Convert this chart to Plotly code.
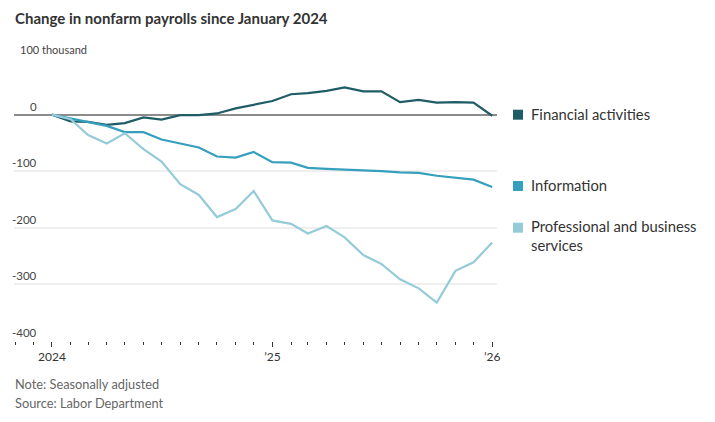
import plotly.graph_objects as go
import pandas as pd

months = pd.date_range("2024-01-01", "2026-01-01", freq="MS")

financial = [0, -12, -13, -18, -15, -5, -9, -1, -1, 2, 11, 17, 24,
             36, 38, 42, 48, 41, 41, 22, 26, 21, 22, 21, -2]
information = [0, -7, -13, -20, -31, -31, -44, -51, -58, -74, -76, -66, -84,
               -85, -94, -96, -97, -98, -100, -102, -103, -108, -112, -115, -128]
professional = [0, -8, -36, -51, -33, -61, -83, -123, -142, -181, -167, -135, -187,
                -193, -210, -197, -217, -248, -264, -291, -307, -332, -276, -261, -226]

series_names = ["Financial activities", "Information", "Professional and business<br>services"]
series_colors = ["#1f5d66", "#35a0bd", "#95cbd8"]
series_values = [financial, information, professional]

y_tickvals = [-400, -300, -200, -100, 0, 100]
y_ticktext = ["-400", "-300", "-200", "-100", "0", "100 thousand"]
x_tickvals = ["2024-01-01", "2025-01-01", "2026-01-01"]
x_ticktext = ["2024", "\u201925", "\u201926"]

FONT = "Lato"
fig = go.Figure()
for name, color, vals in zip(series_names, series_colors, series_values):
    fig.add_trace(go.Scatter(x=months, y=vals, mode="lines", name=name,
                             line=dict(color=color, width=2.2), showlegend=False,
                             hoverinfo="skip"))

# page body has an 8px margin; work in reference pixel coords and shift
OFF = 8
W, H = 715 - OFF, 422 - OFF
PL, PR, PT, PB = 14, 497, 58, 341          # plot area in reference pixels
L, T = PL - OFF, PT - OFF
R, B = W - (PR - OFF), H - (PB - OFF)
pw, ph = PR - PL, PB - PT

def px_x(px):
    return (px - PL) / pw

def px_y(py):
    return (PB - py) / ph

annotations = []
for v, t in zip(y_tickvals, y_ticktext):
    if t == "100 thousand":
        annotations.append(dict(text=t, xref="paper", x=px_x(18), xanchor="left",
                                yref="y", y=v, yanchor="bottom", yshift=0, showarrow=False,
                                font=dict(family=FONT, size=11, color="#444")))
    else:
        annotations.append(dict(text=t, xref="paper", x=px_x(39), xanchor="right",
                                yref="y", y=v, yanchor="bottom", yshift=0, showarrow=False,
                                font=dict(family=FONT, size=11.5, color="#444")))

legend_y_px = [114, 185, 235.5]
square_y_px = [114.7, 186, 227.7]
shapes = []
for name, color, ly, sy in zip(series_names, series_colors, legend_y_px, square_y_px):
    annotations.append(dict(text=name, xref="paper", x=px_x(529), xanchor="left",
                            yref="paper", y=px_y(ly), yanchor="middle", align="left",
                            showarrow=False,
                            font=dict(family=FONT, size=14.8, color="#333")))
    shapes.append(dict(type="rect", xref="paper", yref="paper",
                       x0=px_x(513), x1=px_x(523), y0=px_y(sy + 5), y1=px_y(sy - 5),
                       fillcolor=color, line=dict(width=0)))

annotations.append(dict(text="<b>Change in nonfarm payrolls since January 2024</b>",
                        xref="paper", x=px_x(13), xanchor="left",
                        yref="paper", y=px_y(18.5), yanchor="middle", showarrow=False,
                        font=dict(family=FONT, size=15, color="#333")))
for txt, py in [("Note: Seasonally adjusted", 384), ("Source: Labor Department", 403)]:
    annotations.append(dict(text=txt, xref="paper", x=px_x(13), xanchor="left", align="left",
                            yref="paper", y=px_y(py), yanchor="middle", showarrow=False,
                            font=dict(family=FONT, size=12.8, color="#666")))

fig.update_layout(
    width=W, height=H,
    margin=dict(l=L, r=R, t=T, b=B),
    paper_bgcolor="white", plot_bgcolor="white",
    xaxis=dict(
        type="date",
        range=["2023-10-30", "2026-01-09"],
        tickvals=x_tickvals, ticktext=x_ticktext,
        ticks="outside", ticklen=5, tickcolor="#333", tickwidth=1,
        showgrid=False, showline=False, zeroline=False,
        tickfont=dict(family=FONT, size=12, color="#333"),
        minor=dict(dtick="M1", tick0="2024-01-01", ticks="outside", ticklen=3,
                   tickcolor="#333", tickwidth=1, showgrid=False),
        fixedrange=True,
    ),
    yaxis=dict(
        range=[-400, 100],
        tickvals=y_tickvals, showticklabels=False,
        showgrid=True, gridcolor="#efefef", gridwidth=2,
        zeroline=True, zerolinecolor="#8c8c8c", zerolinewidth=2,
        showline=False, ticks="",
        fixedrange=True,
    ),
    annotations=annotations,
    shapes=shapes,
)

fig.write_html("out.html")
